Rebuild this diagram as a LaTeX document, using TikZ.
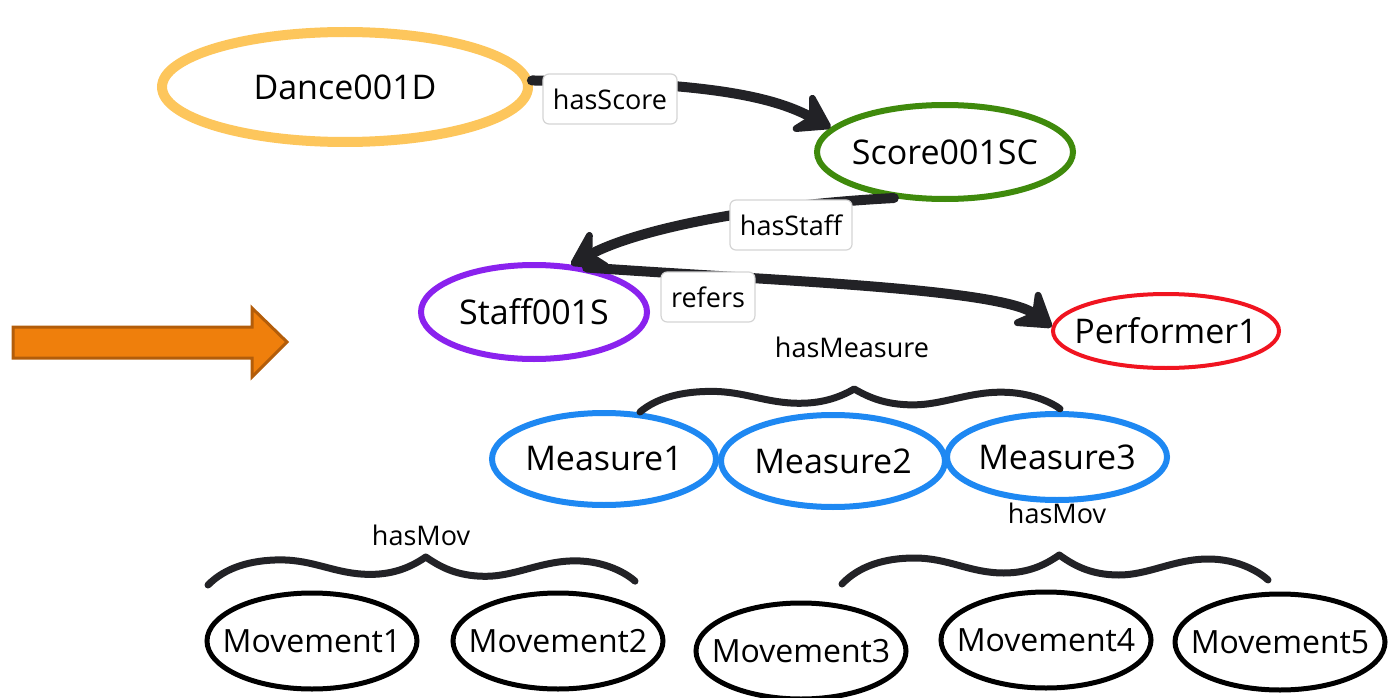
\documentclass[tikz,border=0pt]{standalone}
\usepackage{fontspec}
\setmainfont{Open Sans}
\usetikzlibrary{shapes.geometric,arrows.meta}

\definecolor{danceC}{HTML}{FDC65C}
\definecolor{scoreC}{HTML}{3F8A0C}
\definecolor{staffC}{HTML}{8A22EE}
\definecolor{perfC}{HTML}{F01420}
\definecolor{measC}{HTML}{1E88F2}
\definecolor{inkC}{HTML}{222226}
\definecolor{arrowFill}{HTML}{EF7F0C}
\definecolor{arrowLine}{HTML}{B35D0A}
\definecolor{boxLine}{HTML}{D4D4D4}

\tikzset{
  concept/.style={ellipse, draw, inner xsep=-60pt, inner ysep=-12pt, fill=white,
    font=\fontsize{34}{36}\selectfont},
  movnode/.style={concept, draw=black, line width=5pt,
    minimum width=210pt, minimum height=96pt,
    font=\fontsize{32}{34}\selectfont},
  measnode/.style={concept, draw=measC, line width=6pt,
    minimum width=224pt, minimum height=92pt},
  lbl/.style={draw=boxLine, line width=1.2pt, fill=white, rounded corners=6pt,
    inner xsep=10pt, minimum height=50pt,
    font=\fontsize{27}{29}\selectfont},
  plainlbl/.style={font=\fontsize{27}{29}\selectfont},
  conn/.style={draw=inkC, line width=10pt, line cap=round,
    -{Stealth[length=42pt,width=54pt,inset=15pt,round]}},
  bracket/.style={draw=inkC, line width=7pt, line cap=round, line join=round},
}

% wavy curly bracket: start point (#1,#2), width #3, height #4
\newcommand\wavybrace[4]{%
  \begin{scope}[shift={(#1,#2)}, xscale=#3/100, yscale=#4/29]
    \draw[bracket] (0,0) .. controls (4,-18) and (10,-26) .. (17,-26)
      .. controls (25,-26) and (30,-11) .. (38,-11)
      .. controls (44,-11) and (48,-20) .. (51,-29)
      .. controls (54,-20) and (58,-9) .. (65,-9)
      .. controls (72,-9) and (78,-25) .. (86,-25)
      .. controls (93,-25) and (98,-12) .. (100,-4);
  \end{scope}}

\begin{document}
\begin{tikzpicture}[x=1pt, y=-1pt]
  \useasboundingbox (0,0) rectangle (1397,698);

  % concept nodes
  \node[concept, draw=danceC, line width=10pt, minimum width=366pt, minimum height=110pt]
    (dance) at (345,87) {Dance001D};
  \node[concept, draw=scoreC, line width=6pt, minimum width=256pt, minimum height=94pt]
    (score) at (945,152) {Score001SC};
  \node[concept, draw=staffC, line width=6pt, minimum width=226pt, minimum height=94pt]
    (staff) at (534,312) {Staff001S};
  \node[concept, draw=perfC, line width=4pt, minimum width=226pt, minimum height=74pt]
    (perf) at (1166,331) {Performer1};

  \node[measnode] (m1) at (604,459) {Measure1};
  \node[measnode] (m2) at (833,461) {Measure2};
  \node[measnode, minimum width=220pt, minimum height=86pt] (m3) at (1057,457) {Measure3};

  \node[movnode] (v1) at (312,641) {Movement1};
  \node[movnode] (v2) at (558,641) {Movement2};
  \node[movnode] (v3) at (801,651) {Movement3};
  \node[movnode] (v4) at (1046,640) {Movement4};
  \node[movnode] (v5) at (1280,642) {Movement5};

  % orange pointer on the left
  \draw[fill=arrowFill, draw=arrowLine, line width=3pt, line join=miter]
    (13,327) -- (252,327) -- (252,308) -- (287,342) -- (252,377)
    -- (252,358) -- (13,358) -- cycle;

  % relations between concepts
  \draw[conn] (dance.2) .. controls (700,82) and (770,95) .. (score.168);
  \draw[conn] (score.222) .. controls (760,205) and (640,228) .. (staff.52);
  \draw[conn] (staff.40) .. controls (760,280) and (1000,288) .. (perf.178);

  \node[lbl] (lScore) at (610,99) {hasScore};
  \node[lbl] (lStaff) at (791,225) {hasStaff};
  \node[lbl] (lRefers) at (708,297) {refers};

  % grouping brackets
  \wavybrace{640}{412}{420}{23}
  \node[plainlbl] (lMeas) at (852,347) {hasMeasure};

  \wavybrace{208}{585}{427}{28}
  \node[plainlbl] (lMovL) at (421,535) {hasMov};

  \wavybrace{842}{584}{426}{29}
  \node[plainlbl] (lMovR) at (1057,513) {hasMov};
\end{tikzpicture}
\end{document}
